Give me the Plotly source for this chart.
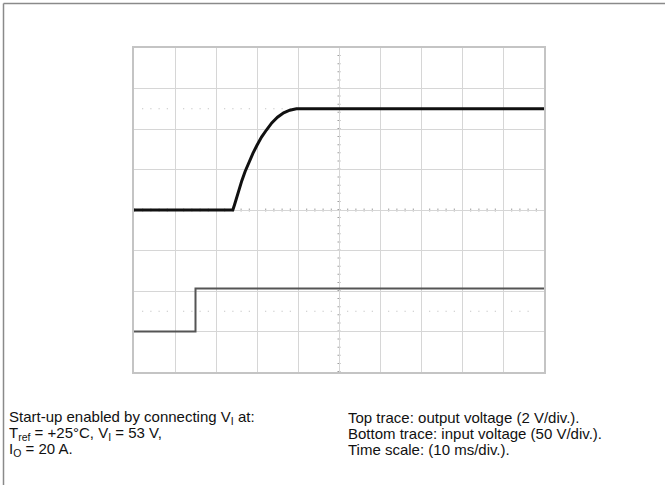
import plotly.graph_objects as go

# Figure / plot area geometry (pixels)
W, H = 665, 485
L, R, T, B = 134, 121, 48, 113
PW, PH = W - L - R, H - T - B

# Top trace: output voltage (2 V/div), time in ms (10 ms/div)
out_t = [0, 24.1, 24.5, 25.0, 25.6, 26.3, 27.1, 28.0, 29.0, 30.0, 31.1,
         32.3, 33.6, 35.0, 36.5, 38.0, 39.6, 100]
out_v = [0, 0, 0.25, 0.6, 1.0, 1.45, 1.9, 2.35, 2.8, 3.2, 3.6,
         3.95, 4.3, 4.58, 4.8, 4.93, 5.0, 5.0]

# Bottom trace: input voltage (50 V/div)
in_t = [0, 15.0, 15.0, 100]
in_v = [0, 0, 53, 53]

# Ground reference markers and the stray sample past the right edge
gnd_t = [-0.7]
stray_t = [100.4]
stray_v = [32]

left_lines = [
    "Start-up enabled by connecting V<sub>I</sub> at:",
    "T<sub>ref</sub> = +25°C, V<sub>I</sub> = 53 V,",
    "I<sub>O</sub> = 20 A.",
]
right_lines = [
    "Top trace: output voltage (2 V/div.).",
    "Bottom trace: input voltage (50 V/div.).",
    "Time scale: (10 ms/div.).",
]


def px_x(p):
    return (p - L) / PW


def px_y(p):
    return 1 - (p - T) / PH


fig = go.Figure()

fig.add_trace(go.Scatter(x=in_t, y=in_v, yaxis="y2", mode="lines",
                         line=dict(color="#555555", width=2), hoverinfo="skip"))
fig.add_trace(go.Scatter(x=out_t, y=out_v, mode="lines",
                         line=dict(color="#111111", width=3), hoverinfo="skip"))
fig.add_trace(go.Scatter(x=gnd_t, y=[0], mode="markers", cliponaxis=False,
                         marker=dict(symbol="square", size=3, color="#aaaaaa"), hoverinfo="skip"))
fig.add_trace(go.Scatter(x=gnd_t, y=[0], yaxis="y2", mode="markers", cliponaxis=False,
                         marker=dict(symbol="square", size=3, color="#aaaaaa"), hoverinfo="skip"))
fig.add_trace(go.Scatter(x=stray_t, y=stray_v, yaxis="y2", mode="markers", cliponaxis=False,
                         marker=dict(symbol="square", size=3, color="#333333"), hoverinfo="skip"))

shapes = []
# outer frame (top and left edges only)
shapes.append(dict(type="line", xref="paper", yref="paper", x0=px_x(3.5), x1=px_x(W),
                   y0=px_y(3.5), y1=px_y(3.5), line=dict(color="#8a8a8a", width=1.5)))
shapes.append(dict(type="line", xref="paper", yref="paper", x0=px_x(3.5), x1=px_x(3.5),
                   y0=px_y(3.5), y1=px_y(H), line=dict(color="#8a8a8a", width=1.5)))
# centre graticule lines with minor tick marks
shapes.append(dict(type="line", xref="x", yref="paper", x0=50, x1=50, y0=0, y1=1,
                   line=dict(color="#a0a0a0", width=3, dash="1px,7.1px"), layer="below"))
shapes.append(dict(type="line", xref="paper", yref="y", x0=0, x1=1, y0=0, y1=0,
                   line=dict(color="#a0a0a0", width=3, dash="1px,7.2px"), layer="below"))
# dotted reference lines
for yv in (5, -5):
    shapes.append(dict(type="line", xref="paper", yref="y", x0=0.02, x1=0.98, y0=yv, y1=yv,
                       line=dict(color="#b8b8b8", width=1.2, dash="1px,7.2px"), layer="below"))

annotations = []
for i, txt in enumerate(left_lines):
    annotations.append(dict(text=txt, xref="paper", yref="paper", x=px_x(7), y=px_y(417 + 16 * i),
                            xanchor="left", yanchor="middle", showarrow=False))
for i, txt in enumerate(right_lines):
    annotations.append(dict(text=txt, xref="paper", yref="paper", x=px_x(346), y=px_y(417 + 16 * i),
                            xanchor="left", yanchor="middle", showarrow=False))

fig.update_layout(
    width=W, height=H,
    margin=dict(l=L, r=R, t=T, b=B),
    paper_bgcolor="white", plot_bgcolor="white",
    showlegend=False,
    font=dict(family="Liberation Sans, Arial, sans-serif", size=15, color="#111111"),
    xaxis=dict(range=[0, 100], dtick=10, showticklabels=False, ticks="",
               showgrid=True, gridcolor="#d6d6d6", gridwidth=1, zeroline=False,
               showline=True, linecolor="#c4c4c4", linewidth=1.5, mirror=True),
    yaxis=dict(range=[-8, 8], dtick=2, showticklabels=False, ticks="",
               showgrid=True, gridcolor="#d6d6d6", gridwidth=1, zeroline=False,
               showline=True, linecolor="#c4c4c4", linewidth=1.5, mirror=True),
    yaxis2=dict(range=[-50, 350], overlaying="y", showgrid=False, showticklabels=False,
                zeroline=False, ticks=""),
    shapes=shapes,
    annotations=annotations,
)

# drop the browser's default body margin so the figure sits at the page corner
fig.write_html("out.html", config={"displayModeBar": False},
               post_script="document.body.style.margin = '0';")
